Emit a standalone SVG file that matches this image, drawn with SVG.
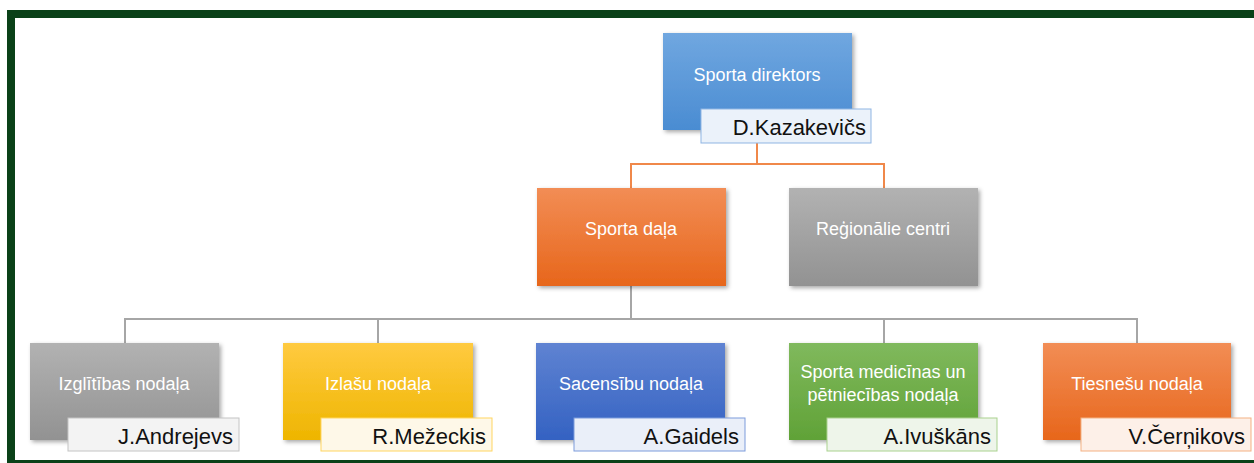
<svg xmlns="http://www.w3.org/2000/svg" width="1254" height="463" viewBox="0 0 1254 463">
<defs>
<linearGradient id="gBlue" x1="0" y1="0" x2="0" y2="1"><stop offset="0" stop-color="#70a7e0"/><stop offset="1" stop-color="#4a8cd2"/></linearGradient>
<linearGradient id="gOrange" x1="0" y1="0" x2="0" y2="1"><stop offset="0" stop-color="#f28d55"/><stop offset="1" stop-color="#e7661b"/></linearGradient>
<linearGradient id="gGray" x1="0" y1="0" x2="0" y2="1"><stop offset="0" stop-color="#b2b2b2"/><stop offset="1" stop-color="#929292"/></linearGradient>
<linearGradient id="gYellow" x1="0" y1="0" x2="0" y2="1"><stop offset="0" stop-color="#ffca40"/><stop offset="1" stop-color="#eeb500"/></linearGradient>
<linearGradient id="gDBlue" x1="0" y1="0" x2="0" y2="1"><stop offset="0" stop-color="#5f83d2"/><stop offset="1" stop-color="#3462c2"/></linearGradient>
<linearGradient id="gGreen" x1="0" y1="0" x2="0" y2="1"><stop offset="0" stop-color="#80b95d"/><stop offset="1" stop-color="#60a237"/></linearGradient>
<filter id="sh" x="-10%" y="-10%" width="125%" height="130%"><feDropShadow dx="2" dy="2" stdDeviation="2" flood-color="#000" flood-opacity="0.35"/></filter>
</defs>
<style>
.t{font-family:"Liberation Sans",Arial,sans-serif;font-size:18px;fill:#ffffff;text-anchor:middle}
.n{font-family:"Liberation Sans",Arial,sans-serif;font-size:22px;fill:#111111;text-anchor:end}
.c{fill:none;stroke-width:2}
.co{stroke:#f0884a}
.cg{stroke:#a6a6a6}
</style>
<rect x="0" y="0" width="1254" height="463" fill="#ffffff"/>
<g id="frame" fill="#0a4118">
<rect x="7" y="10" width="1247" height="8"/>
<rect x="7" y="10" width="8" height="453"/>
<rect x="7" y="460" width="1247" height="3"/>
</g>
<g id="connectors">
<path class="c co" d="M757,143 V164 M631,188 V164 H884 V188"/>
<path class="c cg" d="M631,286 V319 M125,343 V319 H1137 V343 M378,319 V343 M884,319 V343"/>
</g>
<g id="n-director">
<rect x="663" y="33" width="189" height="97" fill="url(#gBlue)" filter="url(#sh)"/>
<text class="t" x="757" y="81">Sporta direktors</text>
<rect x="701" y="109" width="170" height="34" fill="#ebf2fa" stroke="#8fb5e3"/>
<text class="n" x="866" y="135">D.Kazakevičs</text>
</g>
<g id="n-sporta-dala">
<rect x="537" y="188" width="189" height="98" fill="url(#gOrange)" filter="url(#sh)"/>
<text class="t" x="631" y="235">Sporta daļa</text>
</g>
<g id="n-regionalie">
<rect x="789" y="188" width="189" height="98" fill="url(#gGray)" filter="url(#sh)"/>
<text class="t" x="883" y="235">Reģionālie centri</text>
</g>
<g id="n-izglitibas">
<rect x="30" y="343" width="189" height="97" fill="url(#gGray)" filter="url(#sh)"/>
<text class="t" x="124" y="390">Izglītības nodaļa</text>
<rect x="68" y="418" width="171" height="33" fill="#f3f3f3" stroke="#c4c4c4"/>
<text class="n" x="233" y="444">J.Andrejevs</text>
</g>
<g id="n-izlasu">
<rect x="283" y="343" width="190" height="97" fill="url(#gYellow)" filter="url(#sh)"/>
<text class="t" x="378" y="390">Izlašu nodaļa</text>
<rect x="321" y="418" width="171" height="33" fill="#fef8e8" stroke="#ffd561"/>
<text class="n" x="486" y="444">R.Mežeckis</text>
</g>
<g id="n-sacensibu">
<rect x="536" y="343" width="189" height="97" fill="url(#gDBlue)" filter="url(#sh)"/>
<text class="t" x="631" y="390">Sacensību nodaļa</text>
<rect x="574" y="418" width="171" height="33" fill="#eaeff9" stroke="#7d9bdb"/>
<text class="n" x="739" y="444">A.Gaidels</text>
</g>
<g id="n-medicinas">
<rect x="789" y="343" width="189" height="97" fill="url(#gGreen)" filter="url(#sh)"/>
<text class="t" x="883" y="378">Sporta medicīnas un</text>
<text class="t" x="883" y="401">pētniecības nodaļa</text>
<rect x="827" y="418" width="170" height="33" fill="#eef5ea" stroke="#a9d18e"/>
<text class="n" x="991" y="444">A.Ivuškāns</text>
</g>
<g id="n-tiesnesu">
<rect x="1043" y="343" width="188" height="97" fill="url(#gOrange)" filter="url(#sh)"/>
<text class="t" x="1137" y="390">Tiesnešu nodaļa</text>
<rect x="1081" y="418" width="170" height="33" fill="#fdf0e8" stroke="#f4b183"/>
<text class="n" x="1245" y="444">V.Čerņikovs</text>
</g>
</svg>
